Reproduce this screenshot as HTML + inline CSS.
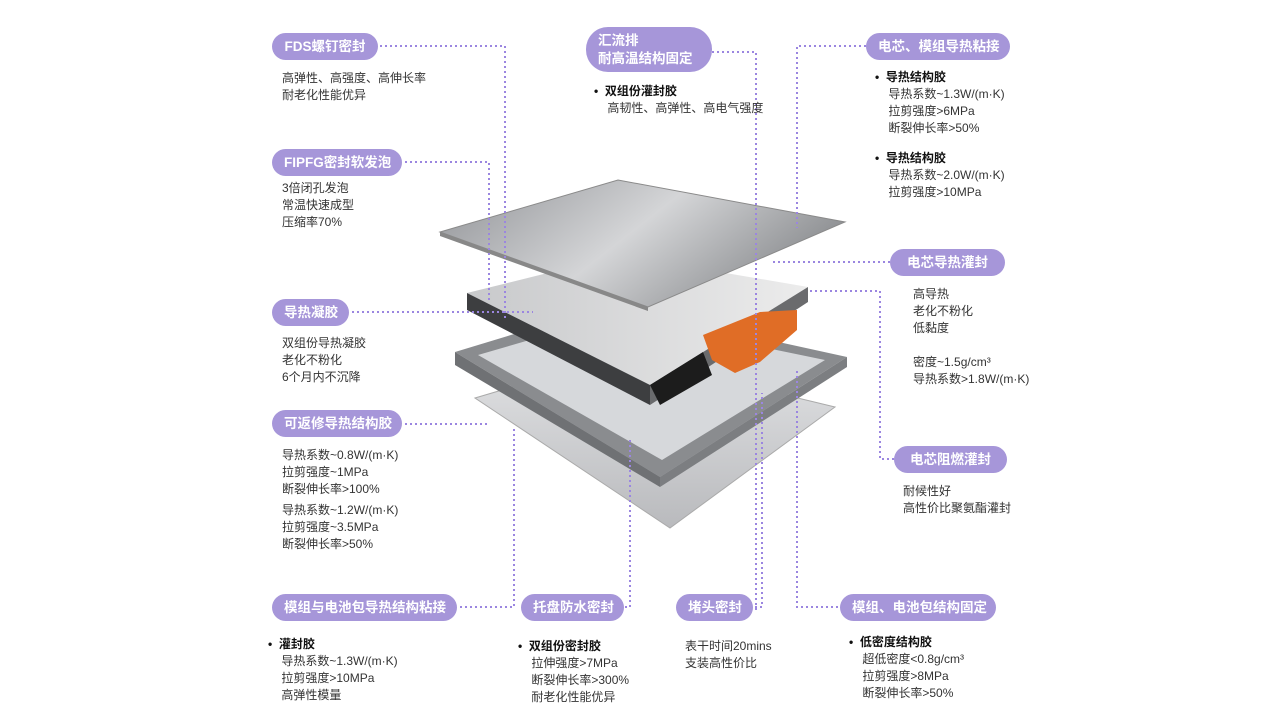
<!DOCTYPE html>
<html><head><meta charset="utf-8"><style>
body{margin:0;width:1280px;height:720px;background:#fff;position:relative;overflow:hidden;font-family:"Liberation Sans","Noto Sans CJK SC",sans-serif;}
.p{position:absolute;background:#a696d9;color:#fff;font-size:13.5px;font-weight:bold;border-radius:14px;height:27px;line-height:27px;padding:0 12px;white-space:nowrap;box-sizing:border-box;text-align:center}
.t{position:absolute;font-size:12px;color:#333;line-height:17px;white-space:nowrap}
.t b{color:#111}
svg{position:absolute;left:0;top:0}
</style></head><body>
<svg width="1280" height="720">
<defs>
<linearGradient id="lid" x1="0" y1="0" x2="1" y2="0.4"><stop offset="0" stop-color="#8f9195"/><stop offset=".55" stop-color="#d4d5d7"/><stop offset="1" stop-color="#8d8f92"/></linearGradient>
<linearGradient id="cell" x1="0" y1="0" x2="1" y2="0"><stop offset="0" stop-color="#c8c9cb"/><stop offset="1" stop-color="#ececec"/></linearGradient>
<linearGradient id="plate" x1="0" y1="0" x2="0" y2="1"><stop offset="0" stop-color="#e2e3e5"/><stop offset="1" stop-color="#b9babd"/></linearGradient>
</defs>
<!-- bottom plate -->
<polygon points="475,398 620,355 835,407 670,528" fill="url(#plate)" stroke="#aaa" stroke-width="1"/>
<!-- tray frame -->
<polygon points="455,352 610,305 847,357 660,477" fill="#8a8c8f"/>
<polygon points="455,352 660,477 660,487 455,365" fill="#6f7174"/>
<polygon points="660,477 847,357 847,367 660,487" fill="#7c7e81"/>
<polygon points="478,355 612,316 825,360 662,460" fill="#d6d8db"/>
<!-- modules -->
<polygon points="467,293 620,255 808,287 650,385" fill="url(#cell)"/>
<polygon points="467,293 650,385 650,405 467,310" fill="#3d3e40"/>
<polygon points="650,385 808,287 808,302 650,405" fill="#6a6b6d"/>
<polygon points="703,335 760,312 797,310 797,330 760,362 735,373 712,360" fill="#e06d26"/>
<polygon points="650,385 703,352 712,375 660,405" fill="#1c1c1c"/>
<!-- lid -->
<polygon points="440,232 618,180 845,222 648,307" fill="url(#lid)" stroke="#8a8a8a" stroke-width="1"/>
<polygon points="440,232 648,307 648,311 440,236" fill="#888"/>
<g fill="none" stroke="#9b86e0" stroke-width="2" stroke-dasharray="2,3">
<polyline points="380,46 505,46 505,318"/>
<polyline points="712,52 756,52 756,610"/>
<polyline points="866,46 797,46 797,228"/>
<polyline points="405,162 489,162 489,300"/>
<polyline points="890,262 770,262"/>
<polyline points="352,312 533,312"/>
<polyline points="894,459 880,459 880,291 810,291"/>
<polyline points="405,424 490,424"/>
<polyline points="460,607 514,607 514,427"/>
<polyline points="625,607 630,607 630,437"/>
<polyline points="755,607 762,607 762,393"/>
<polyline points="838,607 797,607 797,370"/>
</g>
</svg>
<div class="p" style="left:272px;top:33px;width:106px">FDS螺钉密封</div>
<div class="t" style="left:282px;top:70px">高弹性、高强度、高伸长率<br>耐老化性能优异</div>
<div class="p" style="left:586px;top:27px;width:126px;height:45px;line-height:18px;padding-top:5px;text-align:left;border-radius:22px">汇流排<br>耐高温结构固定</div>
<div class="t" style="left:594px;top:83px"><b>•&nbsp; 双组份灌封胶</b><br>&nbsp;&nbsp;&nbsp;&nbsp;高韧性、高弹性、高电气强度</div>
<div class="p" style="left:866px;top:33px;width:144px">电芯、模组导热粘接</div>
<div class="t" style="left:875px;top:69px"><b>•&nbsp; 导热结构胶</b><br>&nbsp;&nbsp;&nbsp;&nbsp;导热系数~1.3W/(m·K)<br>&nbsp;&nbsp;&nbsp;&nbsp;拉剪强度>6MPa<br>&nbsp;&nbsp;&nbsp;&nbsp;断裂伸长率>50%</div>
<div class="t" style="left:875px;top:150px"><b>•&nbsp; 导热结构胶</b><br>&nbsp;&nbsp;&nbsp;&nbsp;导热系数~2.0W/(m·K)<br>&nbsp;&nbsp;&nbsp;&nbsp;拉剪强度>10MPa</div>
<div class="p" style="left:272px;top:149px;width:130px">FIPFG密封软发泡</div>
<div class="t" style="left:282px;top:180px">3倍闭孔发泡<br>常温快速成型<br>压缩率70%</div>
<div class="p" style="left:890px;top:249px;width:115px">电芯导热灌封</div>
<div class="t" style="left:913px;top:286px">高导热<br>老化不粉化<br>低黏度<br><br>密度~1.5g/cm³<br>导热系数>1.8W/(m·K)</div>
<div class="p" style="left:272px;top:299px;width:77px">导热凝胶</div>
<div class="t" style="left:282px;top:335px">双组份导热凝胶<br>老化不粉化<br>6个月内不沉降</div>
<div class="p" style="left:272px;top:410px;width:130px">可返修导热结构胶</div>
<div class="t" style="left:282px;top:447px">导热系数~0.8W/(m·K)<br>拉剪强度~1MPa<br>断裂伸长率>100%</div>
<div class="t" style="left:282px;top:502px">导热系数~1.2W/(m·K)<br>拉剪强度~3.5MPa<br>断裂伸长率>50%</div>
<div class="p" style="left:894px;top:446px;width:113px">电芯阻燃灌封</div>
<div class="t" style="left:903px;top:483px">耐候性好<br>高性价比聚氨酯灌封</div>
<div class="p" style="left:272px;top:594px;width:185px">模组与电池包导热结构粘接</div>
<div class="t" style="left:268px;top:636px"><b>•&nbsp; 灌封胶</b><br>&nbsp;&nbsp;&nbsp;&nbsp;导热系数~1.3W/(m·K)<br>&nbsp;&nbsp;&nbsp;&nbsp;拉剪强度>10MPa<br>&nbsp;&nbsp;&nbsp;&nbsp;高弹性模量</div>
<div class="p" style="left:521px;top:594px;width:103px">托盘防水密封</div>
<div class="t" style="left:518px;top:638px"><b>•&nbsp; 双组份密封胶</b><br>&nbsp;&nbsp;&nbsp;&nbsp;拉伸强度>7MPa<br>&nbsp;&nbsp;&nbsp;&nbsp;断裂伸长率>300%<br>&nbsp;&nbsp;&nbsp;&nbsp;耐老化性能优异</div>
<div class="p" style="left:676px;top:594px;width:77px">堵头密封</div>
<div class="t" style="left:685px;top:638px">表干时间20mins<br>支装高性价比</div>
<div class="p" style="left:840px;top:594px;width:156px">模组、电池包结构固定</div>
<div class="t" style="left:849px;top:634px"><b>•&nbsp; 低密度结构胶</b><br>&nbsp;&nbsp;&nbsp;&nbsp;超低密度<0.8g/cm³<br>&nbsp;&nbsp;&nbsp;&nbsp;拉剪强度>8MPa<br>&nbsp;&nbsp;&nbsp;&nbsp;断裂伸长率>50%</div>
</body></html>
